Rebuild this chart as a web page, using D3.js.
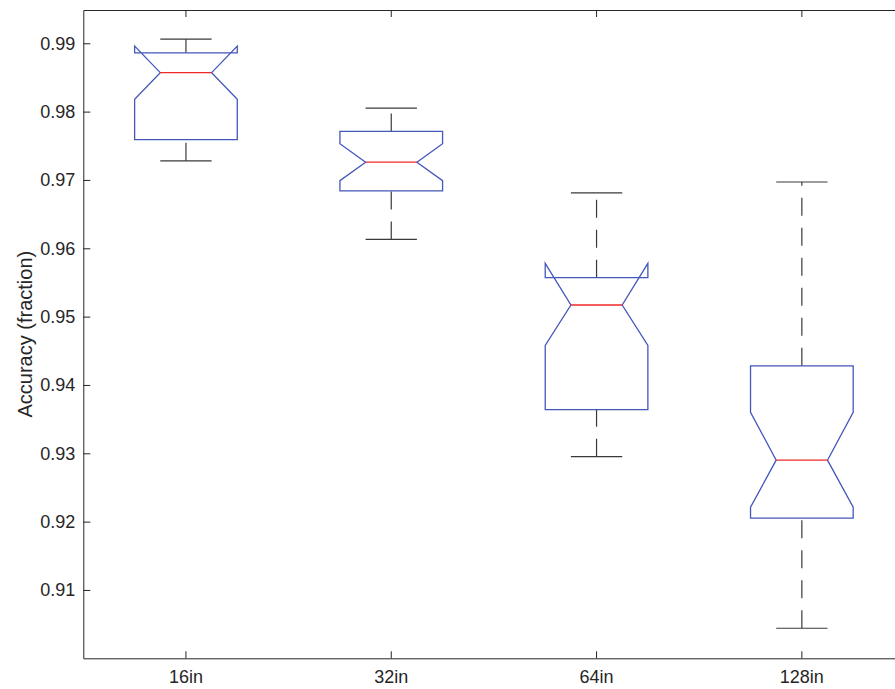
<!DOCTYPE html>
<html>
<head>
<meta charset="utf-8">
<script src="https://cdn.jsdelivr.net/npm/d3@7"></script>
<style>
  body { margin: 0; background: #fff; }
  svg { display: block; font-family: "Liberation Sans", Arial, Helvetica, sans-serif; }
  .axis path, .axis line { stroke: #262626; stroke-width: 1; }
  .axis text { fill: #262626; font-size: 18px; }
</style>
</head>
<body>
<svg id="chart" width="895" height="689"></svg>
<script>
// box statistics
const categories = ["16in", "32in", "64in", "128in"];
const upperWhisker = [0.9906, 0.9805, 0.9681, 0.9697];
const q3Values = [0.9886, 0.9771, 0.9557, 0.9428];
const notchHigh = [0.9896, 0.9753, 0.9578, 0.9360];
const medians = [0.9857, 0.9726, 0.9517, 0.9290];
const notchLow = [0.9818, 0.9699, 0.9458, 0.9221];
const q1Values = [0.9759, 0.9684, 0.9364, 0.9205];
const lowerWhisker = [0.9728, 0.9613, 0.9295, 0.9044];
const yTicks = [0.91, 0.92, 0.93, 0.94, 0.95, 0.96, 0.97, 0.98, 0.99];

const boxes = categories.map((c, i) => ({
  name: c,
  hi: upperWhisker[i],
  q3: q3Values[i],
  nHi: notchHigh[i],
  med: medians[i],
  nLo: notchLow[i],
  q1: q1Values[i],
  lo: lowerWhisker[i],
}));

const svg = d3.select("#chart");
const plotLeft = 83.3, plotRight = 904.5, plotTop = 10, plotBottom = 658.3;

const x = d3.scaleBand().domain(categories).range([plotLeft, plotRight]).padding(0);
const y = d3.scaleLinear().domain([0.9, 0.99487]).range([plotBottom, plotTop]);
const bw = x.bandwidth();
const cx = (d) => x(d.name) + bw / 2;

// axes, ticks pointing inward like matlab
svg.append("g").attr("class", "axis")
  .attr("transform", `translate(${plotLeft},0)`)
  .call(d3.axisLeft(y).tickValues(yTicks).tickFormat(d3.format(".2f"))
    .tickSize(-7).tickSizeOuter(0).tickPadding(8));

svg.append("g").attr("class", "axis")
  .attr("transform", `translate(0,${plotBottom})`)
  .call(d3.axisBottom(x).tickSize(-7).tickSizeOuter(0).tickPadding(11.5));

svg.append("g").attr("class", "axis")
  .attr("transform", `translate(0,${plotTop})`)
  .call(d3.axisTop(x).tickSize(-7).tickSizeOuter(0).tickFormat(""));

svg.append("g").attr("class", "axis")
  .attr("transform", `translate(${plotRight},0)`)
  .call(d3.axisRight(y).tickValues(yTicks).tickSize(-7).tickSizeOuter(0).tickFormat(""));

svg.append("text")
  .attr("transform", `translate(31.5,${(plotTop + plotBottom) / 2}) rotate(-90)`)
  .attr("text-anchor", "middle")
  .attr("fill", "#262626")
  .style("font-size", "20px")
  .text("Accuracy (fraction)");

const g = svg.append("g").selectAll("g").data(boxes).join("g");

// whiskers, drawn from the lower end upward so the dashes start there
g.append("line")
  .attr("x1", cx).attr("x2", cx)
  .attr("y1", (d) => y(d.q3)).attr("y2", (d) => y(d.hi))
  .attr("stroke", "#3a3a3a").attr("stroke-width", 1.2)
  .attr("stroke-dasharray", "18,12");

g.append("line")
  .attr("x1", cx).attr("x2", cx)
  .attr("y1", (d) => y(d.lo)).attr("y2", (d) => y(d.q1))
  .attr("stroke", "#3a3a3a").attr("stroke-width", 1.2)
  .attr("stroke-dasharray", "18,12");

// caps
["hi", "lo"].forEach((k) => {
  g.append("line")
    .attr("x1", (d) => cx(d) - bw * 0.125).attr("x2", (d) => cx(d) + bw * 0.125)
    .attr("y1", (d) => y(d[k])).attr("y2", (d) => y(d[k]))
    .attr("stroke", "#3a3a3a").attr("stroke-width", 1.2);
});

// notched box
g.append("path")
  .attr("fill", "none")
  .attr("stroke", "#4457bb")
  .attr("stroke-width", 1.3)
  .attr("d", (d) => {
    const l = cx(d) - bw * 0.25, r = cx(d) + bw * 0.25;
    const nl = cx(d) - bw * 0.125, nr = cx(d) + bw * 0.125;
    return d3.line()([
      [l, y(d.q1)], [l, y(d.nLo)], [nl, y(d.med)], [l, y(d.nHi)], [l, y(d.q3)],
      [r, y(d.q3)], [r, y(d.nHi)], [nr, y(d.med)], [r, y(d.nLo)], [r, y(d.q1)],
    ]) + "Z";
  });

// median
g.append("line")
  .attr("x1", (d) => cx(d) - bw * 0.125).attr("x2", (d) => cx(d) + bw * 0.125)
  .attr("y1", (d) => y(d.med)).attr("y2", (d) => y(d.med))
  .attr("stroke", "#f02828").attr("stroke-width", 1.3);
</script>
</body>
</html>
